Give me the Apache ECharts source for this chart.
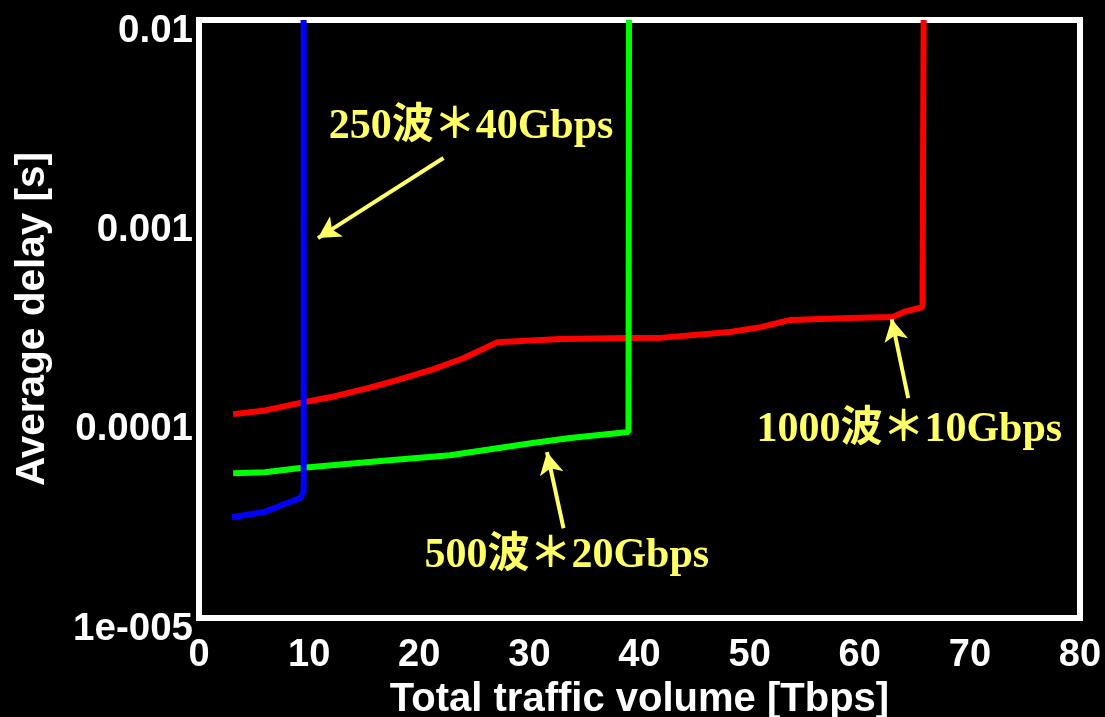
<!DOCTYPE html>
<html>
<head>
<meta charset="utf-8">
<script src="https://cdn.jsdelivr.net/npm/echarts@6/dist/echarts.min.js"></script>
<style>html,body{margin:0;padding:0;background:#000;}#c{width:1105px;height:717px;}</style>
</head>
<body>
<div id="c"></div>
<script>
// ---- data ----
const redX   = [3.1, 6.0, 9.2, 11.9, 15.5, 18.0, 21.0, 24.0, 27.1, 32.8, 38.9, 42.1, 48.2, 51.0, 53.7, 59.1, 63.0, 64.0, 65.7, 65.8];
const redY   = [1.054e-4, 1.10e-4, 1.20e-4, 1.28e-4, 1.43e-4, 1.56e-4, 1.75e-4, 2.01e-4, 2.42e-4, 2.51e-4, 2.54e-4, 2.55e-4, 2.72e-4, 2.88e-4, 3.13e-4, 3.20e-4, 3.24e-4, 3.43e-4, 3.63e-4, 0.01];
const greenX = [3.1, 6.0, 9.2, 17.3, 22.8, 30.3, 33.7, 39.0, 39.05];
const greenY = [5.33e-5, 5.39e-5, 5.65e-5, 6.19e-5, 6.56e-5, 7.55e-5, 8.0e-5, 8.57e-5, 0.01];
const blueX  = [3.0, 5.9, 9.2, 9.5, 9.5];
const blueY  = [3.2e-5, 3.4e-5, 4.0e-5, 4.3e-5, 0.01];

const yTickValues = [1e-5, 1e-4, 1e-3, 1e-2];
const yTickLabels = ['1e-005', '0.0001', '0.001', '0.01'];

const labelTexts  = ['250波＊40Gbps', '500波＊20Gbps', '1000波＊10Gbps'];
const labelPos    = [[24.7, 2.90e-3], [33.4, 2.05e-5], [64.5, 8.77e-5]];
const arrowTail   = [[22.2, 2.03e-3], [33.1, 2.82e-5], [64.4, 1.267e-4]];
const arrowTip    = [[10.8, 8.05e-4], [31.6, 6.79e-5], [62.9, 3.16e-4]];

function pairs(xs, ys) { return xs.map((x, i) => [x, ys[i]]); }

const YEL = '#ffff66';
const sansBold = { fontFamily: 'Liberation Sans, Arial, sans-serif', fontWeight: 'bold', color: '#fff' };

function annot(i) {
  return {
    markPoint: {
      symbol: 'rect', symbolSize: [1, 1], itemStyle: { color: 'rgba(0,0,0,0)' },
      label: {
        show: true, position: 'inside', color: YEL, fontSize: 42, fontWeight: 'bold',
        fontFamily: 'Liberation Serif, "Times New Roman", "Noto Sans CJK SC", serif',
        formatter: labelTexts[i]
      },
      data: [{ coord: labelPos[i] }]
    },
    markLine: {
      silent: true, symbol: ['none', 'arrow'], symbolSize: [18, 22],
      lineStyle: { color: YEL, width: 4, type: 'solid' },
      label: { show: false },
      data: [[{ coord: arrowTail[i] }, { coord: arrowTip[i] }]]
    }
  };
}

const chart = echarts.init(document.getElementById('c'));
chart.setOption({
  backgroundColor: '#000',
  animation: false,
  grid: { left: 199, right: 25, top: 20, bottom: 99, containLabel: false, outerBoundsMode: 'none',
    show: true, borderColor: '#fff', borderWidth: 6, backgroundColor: '#000' },
  xAxis: {
    type: 'value', min: 0, max: 80, interval: 10,
    axisLine: { show: false }, axisTick: { show: false }, splitLine: { show: false },
    axisLabel: Object.assign({ fontSize: 38, margin: 19 }, sansBold),
    name: 'Total traffic volume [Tbps]', nameLocation: 'middle', nameGap: 59,
    nameTextStyle: Object.assign({ fontSize: 40 }, sansBold)
  },
  yAxis: {
    type: 'log', logBase: 10, min: 1e-5, max: 1e-2,
    axisLine: { show: false }, axisTick: { show: false }, splitLine: { show: false },
    axisLabel: Object.assign({
      fontSize: 38.5, margin: 6, verticalAlign: 'top', lineHeight: 22,
      formatter: function (v) {
        for (let i = 0; i < yTickValues.length; i++) {
          if (Math.abs(Math.log10(v) - Math.log10(yTickValues[i])) < 1e-6) return yTickLabels[i];
        }
        return '';
      }
    }, sansBold),
    name: 'Average delay [s]', nameLocation: 'middle', nameGap: 146,
    nameTextStyle: Object.assign({ fontSize: 40.5 }, sansBold)
  },
  series: [
    Object.assign({ type: 'line', data: pairs(redX, redY), showSymbol: false, symbol: 'none',
      lineStyle: { color: '#ff0000', width: 6 }, z: 2 }, annot(2)),
    Object.assign({ type: 'line', data: pairs(greenX, greenY), showSymbol: false, symbol: 'none',
      lineStyle: { color: '#00ff00', width: 6 }, z: 3 }, annot(1)),
    Object.assign({ type: 'line', data: pairs(blueX, blueY), showSymbol: false, symbol: 'none',
      lineStyle: { color: '#0000ff', width: 6 }, z: 4 }, annot(0))
  ]
});
</script>
</body>
</html>
